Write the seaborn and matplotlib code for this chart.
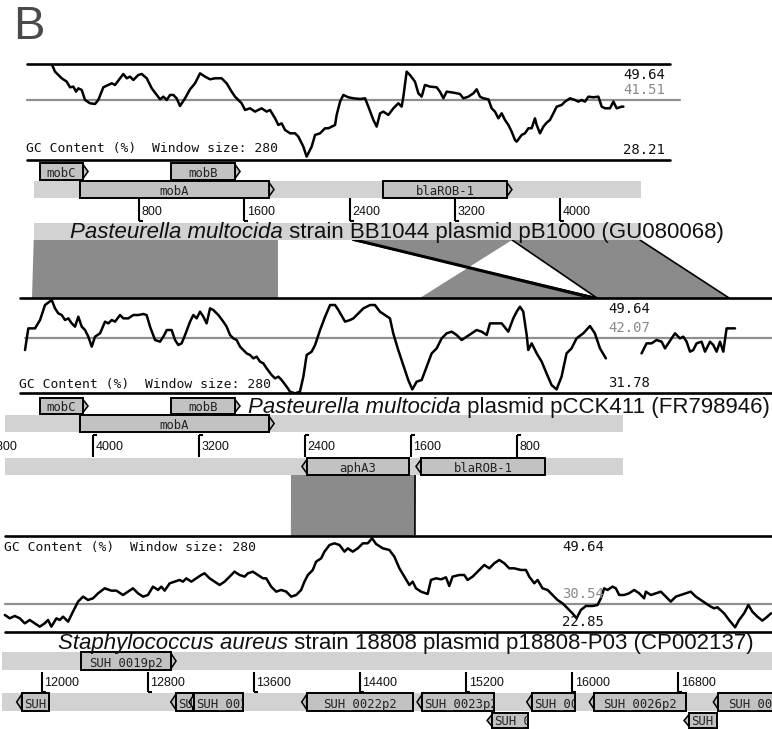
import numpy as np
import pandas as pd
import matplotlib
matplotlib.use("Agg")
import matplotlib.pyplot as plt
import matplotlib.transforms as mtrans
from matplotlib.patches import Polygon, Rectangle
import seaborn as sns

sns.set_theme(style="white")
plt.rcParams["font.family"] = ["Liberation Sans", "DejaVu Sans"]

# ------------------------------------------------------------------
# GC content profiles (window 280 bp): position (bp) and GC (%)
# ------------------------------------------------------------------
gc1_pos = [140, 162, 213, 251, 276, 301, 322, 339, 365, 390, 428, 466, 491, 529, 567, 593, 618, 656, 681, 707,
           732, 757, 795, 821, 859, 897, 935, 960, 985, 1011, 1036, 1061, 1086, 1112, 1150, 1188, 1226, 1264,
           1302, 1340, 1378, 1428, 1466, 1504, 1530, 1555, 1580, 1606, 1644, 1682, 1707, 1732, 1770, 1796, 1834,
           1859, 1884, 1910, 1948, 1986, 2011, 2049, 2074, 2112, 2138, 2176, 2214, 2239, 2264, 2290, 2302, 2328,
           2353, 2391, 2429, 2480, 2518, 2543, 2581, 2606, 2632, 2657, 2695, 2733, 2771, 2796, 2809, 2834, 2859,
           2897, 2923, 2948, 2973, 3011, 3062, 3087, 3113, 3138, 3189, 3239, 3265, 3303, 3341, 3366, 3391, 3417,
           3455, 3480, 3505, 3531, 3556, 3581, 3607, 3632, 3657, 3670, 3708, 3733, 3759, 3784, 3809, 3822, 3847,
           3873, 3898, 3923, 3949, 3974, 4012, 4037, 4075, 4113, 4139, 4164, 4189, 4215, 4253, 4291, 4316, 4341,
           4379, 4405, 4430, 4468, 4481]
gc1_val = [49.42, 47.93, 46.45, 45.70, 44.44, 44.59, 43.47, 44.21, 43.84, 41.61, 40.87, 40.72, 41.61, 44.44,
           44.96, 45.33, 44.96, 46.45, 47.41, 46.45, 46.82, 46.07, 47.19, 47.41, 46.45, 44.21, 42.73, 41.76,
           42.35, 41.61, 42.73, 42.73, 41.98, 40.27, 41.98, 43.99, 45.33, 47.56, 46.82, 46.22, 46.45, 46.45,
           45.33, 43.47, 42.35, 41.61, 40.87, 39.38, 39.75, 39.01, 39.38, 39.75, 39.01, 39.38, 37.52, 36.03,
           36.40, 34.91, 34.17, 34.17, 33.43, 31.19, 28.96, 31.19, 33.80, 34.17, 35.29, 35.29, 35.66, 36.03,
           38.26, 41.24, 42.73, 42.21, 41.98, 41.83, 41.98, 40.12, 37.15, 35.66, 38.63, 39.01, 38.26, 39.75,
           40.87, 40.12, 42.35, 47.93, 47.19, 45.70, 43.10, 42.35, 44.96, 44.59, 44.44, 43.47, 41.98, 43.47,
           43.25, 42.95, 41.98, 42.35, 43.10, 43.99, 42.35, 41.98, 41.76, 39.75, 39.01, 37.52, 38.63, 37.15,
           36.03, 34.54, 32.68, 32.31, 33.80, 34.17, 35.29, 35.29, 37.52, 36.03, 34.17, 35.66, 36.55, 37.15,
           38.63, 40.12, 40.50, 41.24, 41.98, 41.61, 41.24, 41.61, 41.24, 42.35, 42.21, 42.35, 40.12, 39.75,
           39.75, 41.24, 39.75, 40.12, 40.12]
gc1_stats = (28.21, 41.51, 49.64)   # min, mean, max

gc2a_pos = [140, 165, 216, 254, 292, 343, 368, 393, 419, 444, 469, 495, 520, 545, 571, 596, 621, 647, 672, 710,
            748, 773, 799, 824, 862, 887, 925, 963, 1001, 1039, 1064, 1090, 1128, 1166, 1191, 1217, 1254, 1280,
            1305, 1330, 1356, 1394, 1419, 1444, 1470, 1495, 1520, 1546, 1571, 1609, 1647, 1672, 1698, 1723, 1748,
            1774, 1799, 1824, 1850, 1875, 1900, 1926, 1951, 1976, 2014, 2040, 2065, 2090, 2128, 2154, 2191, 2229,
            2255, 2280, 2318, 2344, 2382, 2420, 2458, 2496, 2521, 2572, 2610, 2635, 2673, 2711, 2762, 2799, 2837,
            2875, 2913, 2938, 2976, 3014, 3052, 3083, 3116, 3154, 3192, 3230, 3268, 3306, 3344, 3382, 3420, 3458,
            3496, 3534, 3572, 3610, 3648, 3673, 3711, 3762, 3812, 3850, 3876, 3901, 3926, 3952, 3964, 3990, 4028,
            4066, 4103, 4141, 4179, 4217, 4255, 4293, 4331, 4382, 4433, 4470, 4509, 4554]
gc2a_val = [39.86, 43.93, 43.93, 45.50, 48.32, 49.26, 47.69, 46.75, 46.44, 45.50, 45.81, 44.87, 44.25, 46.13,
            44.25, 43.62, 42.37, 40.49, 42.37, 43.00, 45.19, 44.87, 45.50, 45.19, 46.44, 45.81, 45.81, 46.44,
            46.44, 46.63, 46.44, 44.25, 41.74, 41.43, 42.37, 43.62, 43.62, 41.74, 40.80, 41.11, 42.68, 45.19,
            46.44, 45.81, 47.07, 46.13, 44.87, 47.69, 47.38, 46.44, 45.19, 44.25, 42.68, 42.05, 41.74, 40.49,
            39.86, 39.23, 38.92, 38.29, 38.61, 37.67, 37.35, 36.41, 35.16, 34.53, 34.85, 34.22, 32.97, 32.03,
            31.71, 32.03, 34.85, 38.92, 39.55, 40.80, 43.62, 46.13, 48.32, 48.32, 47.38, 45.19, 45.50, 45.81,
            46.75, 47.69, 48.32, 48.32, 47.07, 46.44, 45.81, 43.00, 39.86, 37.04, 34.22, 32.46, 33.91, 34.22,
            36.73, 39.23, 40.17, 42.05, 43.00, 43.31, 42.68, 41.74, 42.37, 43.00, 43.62, 43.31, 42.68, 44.87,
            44.87, 44.87, 43.31, 45.81, 47.07, 48.01, 47.07, 42.68, 39.86, 41.11, 39.23, 37.67, 35.47, 33.28,
            32.46, 34.85, 39.23, 40.17, 42.05, 43.00, 44.37, 43.00, 40.17, 38.29]
gc2b_pos = [4825, 4863, 4901, 4939, 4977, 5003, 5028, 5079, 5117, 5142, 5167, 5193, 5218, 5243, 5281, 5307,
            5345, 5370, 5395, 5421, 5446, 5471, 5535]
gc2b_val = [39.23, 41.11, 41.11, 41.74, 41.43, 40.17, 41.11, 43.00, 42.05, 42.37, 41.43, 39.55, 39.86, 41.11,
            41.43, 39.55, 41.43, 40.80, 39.55, 41.43, 39.55, 43.93, 43.93]
gc2_stats = (31.78, 42.07, 49.64)

gc3_pos = [11722, 11759, 11797, 11835, 11872, 11910, 11948, 11985, 12023, 12048, 12073, 12111, 12136, 12161,
           12199, 12236, 12274, 12312, 12349, 12387, 12425, 12475, 12525, 12563, 12613, 12651, 12688, 12726,
           12764, 12801, 12839, 12877, 12902, 12927, 12965, 13002, 13040, 13065, 13090, 13128, 13166, 13203,
           13228, 13266, 13304, 13341, 13379, 13417, 13454, 13492, 13530, 13555, 13592, 13630, 13668, 13693,
           13730, 13768, 13806, 13844, 13881, 13919, 13956, 13981, 14007, 14044, 14069, 14107, 14132, 14170,
           14207, 14245, 14283, 14308, 14345, 14383, 14421, 14458, 14491, 14521, 14572, 14621, 14659, 14697,
           14734, 14772, 14797, 14822, 14860, 14910, 14935, 14973, 15011, 15048, 15073, 15098, 15149, 15186,
           15211, 15249, 15274, 15312, 15337, 15375, 15412, 15450, 15488, 15525, 15563, 15613, 15651, 15676,
           15714, 15739, 15776, 15814, 15852, 15889, 15927, 15965, 16002, 16033, 16065, 16103, 16153, 16191,
           16216, 16241, 16266, 16304, 16329, 16354, 16392, 16429, 16467, 16505, 16542, 16555, 16593, 16630,
           16668, 16706, 16743, 16781, 16819, 16856, 16894, 16932, 16969, 17007, 17045, 17070, 17095, 17145,
           17183, 17228, 17258, 17296, 17328, 17358, 17396, 17434, 17471, 17499]
gc3_val = [27.60, 26.67, 27.32, 26.67, 25.27, 26.20, 25.27, 24.34, 25.27, 26.20, 24.34, 26.67, 26.20, 27.13,
           25.74, 28.53, 31.32, 32.72, 31.79, 32.25, 33.65, 35.04, 34.39, 34.39, 33.18, 34.11, 35.04, 33.65,
           32.72, 33.18, 35.51, 34.58, 35.51, 34.39, 36.44, 36.90, 37.37, 36.90, 37.83, 36.90, 37.83, 38.76,
           39.23, 37.83, 36.90, 35.97, 36.90, 38.30, 39.69, 38.76, 38.30, 39.23, 39.69, 38.76, 37.83, 37.83,
           35.51, 34.11, 34.58, 34.11, 32.72, 33.18, 34.58, 36.90, 38.76, 40.16, 42.48, 43.41, 45.27, 47.13,
           47.60, 47.13, 45.27, 46.20, 45.27, 46.20, 47.60, 47.60, 48.99, 47.41, 46.20, 45.74, 43.88, 40.62,
           38.30, 35.97, 36.90, 35.04, 34.11, 33.46, 37.37, 37.83, 37.55, 38.11, 35.69, 38.30, 38.76, 38.76,
           37.37, 38.30, 39.23, 40.62, 41.55, 40.62, 42.02, 42.95, 42.02, 40.62, 40.62, 40.16, 40.16, 38.30,
           36.44, 37.37, 35.04, 34.58, 33.18, 31.79, 30.85, 29.46, 28.06, 26.67, 28.99, 30.11, 30.11, 30.39,
           32.25, 35.04, 34.58, 35.51, 35.04, 33.18, 33.18, 33.65, 34.58, 33.65, 32.25, 34.11, 33.18, 33.65,
           34.11, 32.72, 31.32, 32.72, 33.18, 33.65, 34.11, 32.72, 31.79, 30.85, 29.92, 29.46, 29.74, 28.06,
           26.20, 24.16, 26.20, 28.06, 30.39, 28.53, 27.13, 26.02, 27.13, 28.06]
gc3_stats = (22.85, 30.54, 49.64)

# ------------------------------------------------------------------
# Annotated genes: name, start, end, strand, row
# ------------------------------------------------------------------
pB1000_len = 4613
pB1000_genes = [("mobC", 48, 413, 1, "row"), ("mobB", 1043, 1568, 1, "row"),
                ("mobA", 352, 1826, 1, "bb"), ("blaROB-1", 2654, 3634, 1, "bb")]
pB1000_ticks = [800, 1600, 2400, 3200, 4000]

pCCK411_len = 4670
pCCK411_genes = [("mobC", 4040, 4403, -1, "row"), ("mobB", 2891, 3413, -1, "row"),
                 ("mobA", 2633, 4101, -1, "bb"),
                 ("aphA3", 1614, 2423, 1, "bb2"), ("blaROB-1", 586, 1561, 1, "bb2")]
pCCK411_ticks = [800, 1600, 2400, 3200, 4000, 4800]

p18808_span = (11700, 17800)
p18808_genes = [("SUH_0019p2", 12296, 13013, 1, "bb1"),
                ("SUH_0018p2", 11811, 12057, -1, "bb2"),
                ("SUH_0020p2", 12973, 13141, -1, "bb2"),
                ("SUH_0021p2", 13111, 13518, -1, "bb2"),
                ("SUH_0022p2", 13960, 14800, -1, "bb2"),
                ("SUH_0023p2", 14830, 15413, -1, "bb2"),
                ("SUH_0024p2", 15358, 15669, -1, "low"),
                ("SUH_0025p2", 15657, 16021, -1, "bb2"),
                ("SUH_0026p2", 16129, 16858, -1, "bb2"),
                ("SUH_0027p2", 16843, 17090, -1, "low"),
                ("SUH_0028p2", 17064, 17800, -1, "bb2")]
p18808_ticks = [12000, 12800, 13600, 14400, 15200, 16000, 16800]

# Pairwise similarity blocks: (top start, top end, bottom start, bottom end) in bp
links_pB1000_pCCK411 = [(0, 1856, 193, 2062), (2426, 3635, 4486, 3141),
                        (3635, 4607, 4486, 5490), (2426, 2466, 4433, 4486)]
links_pCCK411_p18808 = [(2506, 1568, 13879, 14814)]

titles = [
    [("Pasteurella multocida", "italic"), (" strain BB1044 plasmid pB1000 (GU080068)", "normal")],
    [("Pasteurella multocida", "italic"), (" plasmid pCCK411 (FR798946)", "normal")],
    [("Staphylococcus aureus", "italic"), (" strain 18808 plasmid p18808-P03 (CP002137)", "normal")],
]

# ------------------------------------------------------------------
# Figure set-up
# ------------------------------------------------------------------
W, H = 772, 729
BACKBONE = "#d2d2d2"
GENE = "#c2c2c2"
BLOCK = "#8b8b8b"
MONO = "DejaVu Sans Mono"
SANS = "Liberation Sans"

fig = plt.figure(figsize=(W / 100, H / 100), dpi=100)
fig.patch.set_facecolor("white")
page = fig.add_axes([0, 0, 1, 1])
page.set_xlim(0, W)
page.set_ylim(H, 0)
page.set_axis_off()
renderer = fig.canvas.get_renderer()


def scale_xlim(px0, bp0, k):
    """x-limits (bp) so that bp0 lands at pixel px0 with k pixels per bp."""
    return (bp0 - px0 / k, bp0 + (W - px0) / k)


def band_axes(ytop, ybot, xlim, ylim):
    ax = fig.add_axes([0, 1 - ybot / H, 1, (ybot - ytop) / H])
    ax.set_xlim(*xlim)
    ax.set_ylim(*ylim)
    ax.set_axis_off()
    ax.patch.set_alpha(0)
    return ax


def px(ax, bp):
    return ax.transData.transform((bp, ax.get_ylim()[0]))[0]


# sequence coordinate systems
XL_PB = scale_xlim(33.7, 0, 0.1316)
XL_PC = scale_xlim(622.5, 0, -0.1323)
XL_PCGC = scale_xlim(6.6, 0, 0.1316)
XL_SA = scale_xlim(41.7, 12000, 0.13263)


def gc_panel(ytop, ybot, xlim, stats, segments, lines_x, mean_x, label_x, caption_y):
    lo, mean, hi = stats
    ax = band_axes(ytop, ybot, xlim, (lo, hi))
    for pos, val in segments:
        df = pd.DataFrame({"pos": pos, "gc": val})
        sns.lineplot(data=df, x="pos", y="gc", ax=ax, color="black", lw=1.8,
                     estimator=None, sort=False, legend=False)
    ax.set_xlim(*xlim)
    ax.set_ylim(lo, hi)
    ax.set_axis_off()
    for v in (lo, hi):
        ax.axhline(v, xmin=lines_x[0] / W, xmax=lines_x[1] / W, color="black", lw=1.9, clip_on=False, zorder=3)
    ax.axhline(mean, xmin=mean_x[0] / W, xmax=mean_x[1] / W, color="#8f8f8f", lw=1.6, clip_on=False, zorder=1)
    blend = mtrans.blended_transform_factory(page.transData, ax.transData)
    ax.annotate(f"{hi:.2f}", xy=(label_x, hi), xycoords=blend, xytext=(0, -4), textcoords="offset pixels",
                va="top", ha="left", family=MONO, fontsize=10, color="#111111")
    ax.annotate(f"{mean:.2f}", xy=(label_x, mean), xycoords=blend, xytext=(0, 3), textcoords="offset pixels",
                va="bottom", ha="left", family=MONO, fontsize=10, color="#8a8a8a")
    ax.annotate(f"{lo:.2f}", xy=(label_x, lo), xycoords=blend, xytext=(0, 3), textcoords="offset pixels",
                va="bottom", ha="left", family=MONO, fontsize=10, color="#111111")
    page.text(lines_x[0] - 1, caption_y, "GC Content (%)  Window size: 280", family=MONO, fontsize=9.4,
              va="center", ha="left", color="#111111", zorder=6)
    return ax


ax_gc1 = gc_panel(64, 160, XL_PB, gc1_stats, [(gc1_pos, gc1_val)], (27, 670), (27, 680), 623, 148)
ax_gc2 = gc_panel(298, 393, XL_PCGC, gc2_stats, [(gc2a_pos, gc2a_val), (gc2b_pos, gc2b_val)],
                  (20, W), (25, W), 608, 384)
ax_gc3 = gc_panel(536, 632, XL_SA, gc3_stats, [(gc3_pos, gc3_val)], (5, W), (5, W), 562, 548)
ax_pc = band_axes(0, H, XL_PC, (0, 1))


# ------------------------------------------------------------------
# Drawing helpers
# ------------------------------------------------------------------
def backbone(ax, start, end, y0, y1):
    xa, xb = sorted([px(ax, start), px(ax, end)])
    page.add_patch(Rectangle((xa, y0), xb - xa, y1 - y0, fc=BACKBONE, ec="none", zorder=2))


def gene(ax, name, start, end, strand, y0, y1):
    xs, xe = px(ax, start), px(ax, end)
    xa, xb = min(xs, xe), max(xs, xe)
    tip = xe if strand > 0 else xs
    tw = 5
    ym = (y0 + y1) / 2
    if tip >= (xa + xb) / 2:
        bx0, bx1 = xa, xb - tw
        tri = [(bx1, y0 + 1.5), (xb, ym), (bx1, y1 - 1.5)]
    else:
        bx0, bx1 = xa + tw, xb
        tri = [(bx0, y0 + 1.5), (xa, ym), (bx0, y1 - 1.5)]
    page.add_patch(Polygon(tri, closed=True, fc=GENE, ec="black", lw=1.1, zorder=4, joinstyle="miter"))
    box = Rectangle((bx0, y0), bx1 - bx0, y1 - y0, fc=GENE, ec="black", lw=1.4, zorder=4)
    page.add_patch(box)
    t = page.text((bx0 + bx1) / 2, y1 - 3.2, name, family=MONO, fontsize=8.8, color="#222222",
                  va="baseline", ha="center", zorder=5)
    wtxt = t.get_window_extent(renderer=renderer).width
    if wtxt > (bx1 - bx0) - 3:
        t.set_x(bx0 + 2)
        t.set_ha("left")
    t.set_clip_path(box)
    t.set_clip_on(True)


def ticks(ax, values, y_top, y_bot, hook, label_y):
    for v in values:
        x = px(ax, v)
        page.plot([x, x], [y_top, y_bot], color="black", lw=1.5, zorder=5, solid_capstyle="butt")
        hy = y_bot if hook == "bottom" else y_top
        page.plot([x, x + 4], [hy, hy], color="black", lw=1.5, zorder=5, solid_capstyle="butt")
        page.text(x + 2.5, label_y, str(v), family=SANS, fontsize=9, va="center", ha="left",
                  color="#111111", zorder=6)


def link(ax_top, ax_bot, ytop, ybot, blk, fc, edges):
    ts, te, bs, be = blk
    pts = [(px(ax_top, ts), ytop), (px(ax_top, te), ytop), (px(ax_bot, be), ybot), (px(ax_bot, bs), ybot)]
    page.add_patch(Polygon(pts, closed=True, fc=fc, ec="none", zorder=1))
    if "left" in edges:
        page.plot([pts[0][0], pts[3][0]], [ytop, ybot], color="black", lw=1.2, zorder=1.5)
    if "right" in edges:
        page.plot([pts[1][0], pts[2][0]], [ytop, ybot], color="black", lw=1.2, zorder=1.5)


def title(x, y, pieces, size):
    for txt, style in pieces:
        t = page.text(x, y, txt, fontsize=size, fontstyle=style, family=SANS, ha="left", va="center",
                      color="#111111", zorder=6)
        x += t.get_window_extent(renderer=renderer).width


# ------------------------------------------------------------------
# Similarity blocks
# ------------------------------------------------------------------
link_styles = [(BLOCK, ()), (BLOCK, ("left",)), (BLOCK, ("left", "right")), ("#e4e4e4", ("left", "right"))]
for blk, (fc, edges) in zip(links_pB1000_pCCK411, link_styles):
    link(ax_gc1, ax_gc2, 240, 298, blk, fc, edges)
for blk in links_pCCK411_p18808:
    link(ax_pc, ax_gc3, 475, 536, blk, BLOCK, ("right",))

# ------------------------------------------------------------------
# pB1000
# ------------------------------------------------------------------
rows1 = {"row": (163, 180), "bb": (181, 198)}
backbone(ax_gc1, 0, pB1000_len, *rows1["bb"])
backbone(ax_gc1, 0, pB1000_len, 223, 240)
for name, s, e, strand, row in pB1000_genes:
    gene(ax_gc1, name, s, e, strand, *rows1[row])
ticks(ax_gc1, pB1000_ticks, 198, 221, "bottom", 212)

# ------------------------------------------------------------------
# pCCK411 (shown reversed)
# ------------------------------------------------------------------
rows2 = {"row": (398, 414), "bb": (415, 432), "bb2": (458, 475)}
backbone(ax_pc, 0, pCCK411_len, *rows2["bb"])
backbone(ax_pc, 0, pCCK411_len, *rows2["bb2"])
for name, s, e, strand, row in pCCK411_genes:
    gene(ax_pc, name, s, e, strand, *rows2[row])
ticks(ax_pc, pCCK411_ticks, 435, 457, "top", 447)

# ------------------------------------------------------------------
# p18808-P03
# ------------------------------------------------------------------
rows3 = {"bb1": (652, 670), "bb2": (693, 711), "low": (713, 728)}
backbone(ax_gc3, *p18808_span, *rows3["bb1"])
backbone(ax_gc3, *p18808_span, *rows3["bb2"])
for name, s, e, strand, row in p18808_genes:
    gene(ax_gc3, name, s, e, strand, *rows3[row])
ticks(ax_gc3, p18808_ticks, 672, 692, "bottom", 683)

# ------------------------------------------------------------------
# Sequence titles and panel letter
# ------------------------------------------------------------------
probe = page.text(0, 0, "".join(p[0] for p in titles[0]), fontsize=10, family=SANS)
title_size = 10 * 657 / probe.get_window_extent(renderer=renderer).width
probe.remove()
title(70, 232, titles[0], title_size)
title(248, 407, titles[1], title_size)
title(58, 644, titles[2], title_size)

page.text(13, 27, "B", family=SANS, fontsize=34, color="#4a4a4a", va="center", ha="left")

fig.savefig("out.png", dpi=100, facecolor="white")
